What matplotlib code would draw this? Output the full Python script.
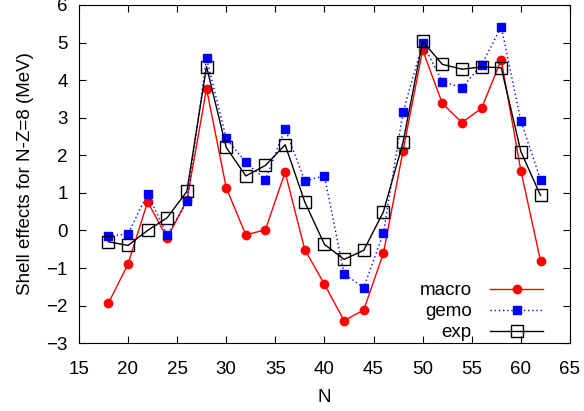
import matplotlib
matplotlib.use("Agg")
import matplotlib.pyplot as plt

plt.rcParams['font.family'] = ['Liberation Sans', 'DejaVu Sans']

N = [18, 20, 22, 24, 26, 28, 30, 32, 34, 36, 38, 40,
     42, 44, 46, 48, 50, 52, 54, 56, 58, 60, 62]
macro = [-1.94, -0.90, 0.76, -0.20, 0.80, 3.77, 1.14, -0.12, 0.02, 1.55, -0.51, -1.43,
         -2.40, -2.12, -0.61, 2.11, 4.80, 3.38, 2.87, 3.25, 4.54, 1.59, -0.81]
gemo = [-0.14, -0.10, 0.98, -0.13, 0.77, 4.58, 2.45, 1.81, 1.35, 2.71, 1.32, 1.45,
        -1.15, -1.52, -0.08, 3.14, 4.98, 3.96, 3.80, 4.40, 5.42, 2.91, 1.35]
exp = [-0.30, -0.40, 0.00, 0.34, 1.04, 4.36, 2.21, 1.45, 1.73, 2.28, 0.76, -0.37,
       -0.77, -0.53, 0.49, 2.34, 5.03, 4.42, 4.29, 4.35, 4.33, 2.10, 0.93]

fig = plt.figure(figsize=(5.84, 4.11), dpi=100)
ax = fig.add_axes([0.135, 0.165, 0.841, 0.823])

ax.plot(N, macro, color='#ff0000', lw=1, marker='o', ms=6, label='macro')
ax.plot(N, gemo, color='#0000ff', lw=1, ls=(0, (1, 2)), marker='s', ms=5.5, label='gemo')
ax.plot(N, exp, color='black', lw=1, marker='s', ms=9, mfc='none', mec='black',
        mew=1, label='exp')

ax.set_xlim(15, 65)
ax.set_ylim(-3, 6)
ax.set_xticks(range(15, 66, 5))
ax.set_yticks(range(-3, 7))
ax.tick_params(direction='in', top=True, right=True, labelsize=13.5, length=5)
ax.tick_params(axis='x', pad=13)
ax.tick_params(axis='y', pad=8)
ax.set_xlabel('N', fontsize=13.5, labelpad=8)
ax.set_ylabel('Shell effects for N-Z=8 (MeV)', fontsize=13.5, labelpad=9)

ax.legend(loc='lower right', bbox_to_anchor=(0.945, 0.006), frameon=False,
          markerfirst=False, fontsize=13.5, handlelength=2.8, labelspacing=0.2,
          borderpad=0, borderaxespad=0, handletextpad=1.0)

fig.savefig('out.png', dpi=100)
